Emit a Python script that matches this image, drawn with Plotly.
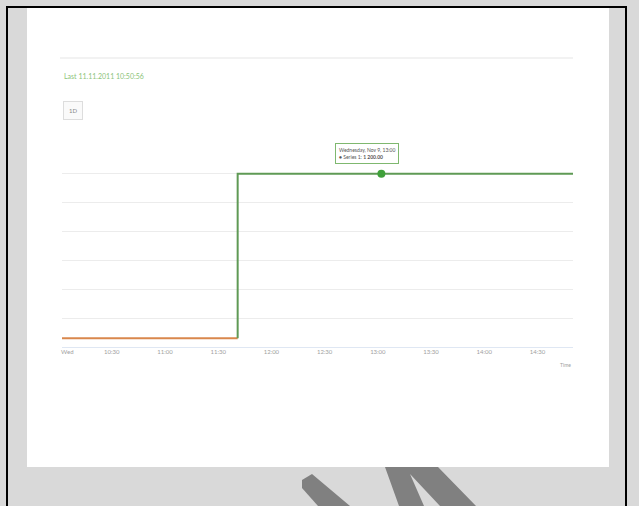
import plotly.graph_objects as go

# Step series (values in chart units)
before_x = ["2011-11-09 10:02", "2011-11-09 11:41"]
before_y = [60, 60]
after_x = ["2011-11-09 11:41", "2011-11-09 11:41", "2011-11-09 14:50"]
after_y = [60, 1200, 1200]

hover_x = ["2011-11-09 13:02"]
hover_y = [1200]

tick_vals = ["2011-11-09 10:05", "2011-11-09 10:30", "2011-11-09 11:00",
             "2011-11-09 11:30", "2011-11-09 12:00", "2011-11-09 12:30",
             "2011-11-09 13:00", "2011-11-09 13:30", "2011-11-09 14:00",
             "2011-11-09 14:30"]
tick_text = ["Wed", "10:30", "11:00", "11:30", "12:00", "12:30",
             "13:00", "13:30", "14:00", "14:30"]

title_text = "Last 11.11.2011 10:50:56"
button_text = "1D"
tooltip_lines = ["Wednesday, Nov 9, 13:00", "● Series 1: <b>1 200.00</b>"]

W, H = 639, 506
L, R, T, B = 62, 573, 145, 347

_GREEN = "#5f9a55"
_ORANGE = "#d9874c"
_GRID = "#ececec"
_GRAY_TXT = "#a0a0a0"


def px(x):
    return (x - L) / (R - L)


def py(y):
    return (B - y) / (B - T)


fig = go.Figure()
fig.add_trace(go.Scatter(x=before_x, y=before_y, mode="lines",
                         line={"color": _ORANGE, "width": 2}))
fig.add_trace(go.Scatter(x=after_x, y=after_y, mode="lines",
                         line={"color": _GREEN, "width": 2}))
fig.add_trace(go.Scatter(x=hover_x, y=hover_y, mode="markers",
                         marker={"color": "#3fa03a", "size": 8}))

shapes = [
    # white panel
    {"type": "rect", "xref": "paper", "yref": "paper", "layer": "below",
     "x0": px(27), "x1": px(609), "y0": py(467), "y1": py(8),
     "fillcolor": "white", "line": {"width": 0}},
    # frame lines
    {"type": "line", "xref": "paper", "yref": "paper",
     "x0": px(7), "x1": px(7), "y0": py(6), "y1": py(506),
     "line": {"color": "black", "width": 2}},
    {"type": "line", "xref": "paper", "yref": "paper",
     "x0": px(626), "x1": px(626), "y0": py(6), "y1": py(506),
     "line": {"color": "black", "width": 2}},
    {"type": "line", "xref": "paper", "yref": "paper",
     "x0": px(6), "x1": px(627), "y0": py(7), "y1": py(7),
     "line": {"color": "black", "width": 2}},
    # faint top separator
    {"type": "line", "xref": "paper", "yref": "paper",
     "x0": px(60), "x1": px(573), "y0": py(58), "y1": py(58),
     "line": {"color": "#f2f2f2", "width": 2}},
    # watermark strokes below the panel
    {"type": "path", "xref": "paper", "yref": "paper", "line": {"width": 0},
     "fillcolor": "#808080",
     "path": "M {} {} L {} {} L {} {} L {} {} L {} {} Z".format(
         px(302), py(480), px(312), py(474), px(350), py(506),
         px(318), py(506), px(302), py(488))},
    {"type": "path", "xref": "paper", "yref": "paper", "line": {"width": 0},
     "fillcolor": "#808080",
     "path": "M {} {} L {} {} L {} {} L {} {} L {} {} L {} {} L {} {} Z".format(
         px(385), py(467), px(438), py(467), px(476), py(506),
         px(440), py(506), px(410), py(474), px(424), py(506),
         px(399), py(506))},
]

annotations = [
    {"text": title_text, "xref": "paper", "yref": "paper",
     "x": px(62), "y": py(76), "xanchor": "left", "yanchor": "middle",
     "showarrow": False, "font": {"size": 7, "color": "#8cc47a"}},
    {"text": button_text, "xref": "paper", "yref": "paper",
     "x": px(63), "y": py(110), "xanchor": "left", "yanchor": "middle",
     "showarrow": False, "font": {"size": 6, "color": "#888"},
     "bordercolor": "#dddddd", "borderwidth": 1, "borderpad": 5,
     "bgcolor": "#fafafa"},
    {"text": "<br>".join(tooltip_lines), "x": hover_x[0], "y": hover_y[0],
     "xref": "x", "yref": "y", "yshift": 20, "xshift": -14,
     "showarrow": False, "align": "left",
     "font": {"size": 5, "color": "#555"},
     "bordercolor": "#7fb86f", "borderwidth": 1, "borderpad": 3,
     "bgcolor": "rgba(255,255,255,0.9)"},
    {"text": "Time", "xref": "paper", "yref": "paper",
     "x": px(573), "y": py(365), "xanchor": "right", "yanchor": "middle",
     "showarrow": False, "font": {"size": 5, "color": _GRAY_TXT}},
]

fig.update_layout(
    width=W, height=H,
    margin={"l": L, "r": W - R, "t": T, "b": H - B},
    paper_bgcolor="#d9d9d9", plot_bgcolor="white",
    showlegend=False,
    font={"family": "Lato, Roboto, sans-serif"},
    xaxis={"type": "date", "range": ["2011-11-09 10:02", "2011-11-09 14:50"],
           "tickvals": tick_vals, "ticktext": tick_text,
           "tickfont": {"size": 6, "color": _GRAY_TXT},
           "showgrid": False, "zeroline": False,
           "showline": False, "ticks": ""},
    yaxis={"range": [0, 1400], "dtick": 200, "showticklabels": False,
           "gridcolor": _GRID, "gridwidth": 1, "zeroline": True,
           "zerolinecolor": "#dfe7f3", "zerolinewidth": 1},
    shapes=shapes, annotations=annotations,
)

# drop the page's default body margin so the figure sits at the top-left
fig.write_html("out.html", config={"displayModeBar": False},
               post_script="document.body.style.margin='0';")
